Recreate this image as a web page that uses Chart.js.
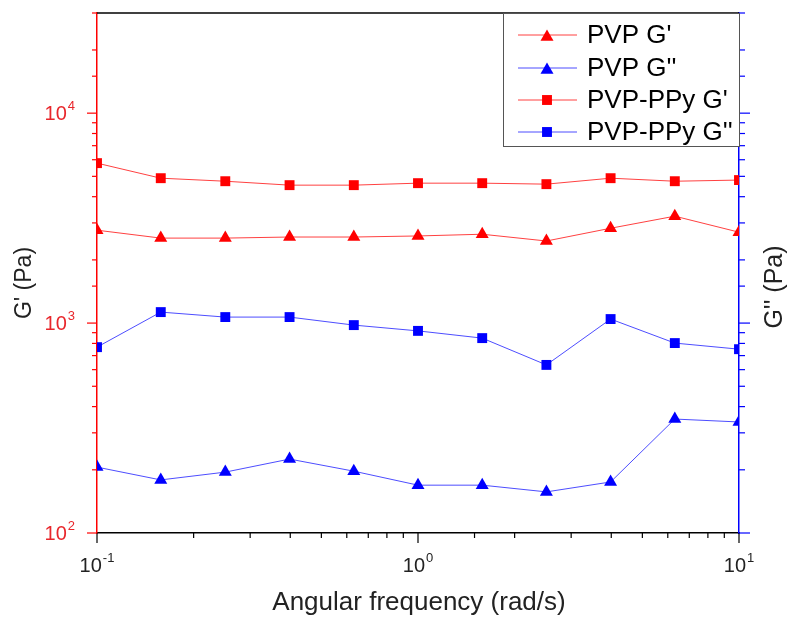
<!DOCTYPE html>
<html>
<head>
<meta charset="utf-8">
<script src="https://cdn.jsdelivr.net/npm/chart.js@4"></script>
<style>
  html, body { margin: 0; padding: 0; background: #fff; }
  #wrap { width: 790px; height: 618px; }
</style>
</head>
<body>
<div id="wrap"><canvas id="myChart"></canvas></div>
<script>
// angular frequency (rad/s)
const freq = [0.1, 0.158, 0.251, 0.398, 0.631, 1, 1.585, 2.512, 3.981, 6.31, 10];

// moduli (Pa)
const pvpG1 = [2770, 2540, 2540, 2570, 2570, 2600, 2650, 2460, 2830, 3230, 2710];
const pvpG2 = [206, 179, 195, 225, 197, 169, 169, 157, 175, 349, 338];
const ppyG1 = [5780, 4900, 4740, 4540, 4540, 4640, 4640, 4590, 4900, 4740, 4800];
const ppyG2 = [768, 1128, 1068, 1068, 978, 918, 848, 632, 1045, 803, 751];

const seriesNames = ["PVP G'", "PVP G''", "PVP-PPy G'", "PVP-PPy G''"];

const RED = '#ff0000';
const BLUE = '#0000ff';
const FONT = '"Liberation Sans", Arial, sans-serif';

function pts(ys) {
  return freq.map((x, i) => ({ x: x, y: ys[i] }));
}

function ds(label, ys, color, lineColor, shape, axis) {
  return {
    label: label,
    data: pts(ys),
    yAxisID: axis,
    borderColor: lineColor,
    backgroundColor: color,
    pointBackgroundColor: color,
    borderWidth: 1,
    pointStyle: shape,
    pointRadius: shape === 'rect' ? 7 : 7.5,
    pointBorderWidth: 0,
    tension: 0,
    clip: 0
  };
}

function isMajor(v) {
  const l = Math.log10(v);
  return Math.abs(l - Math.round(l)) < 1e-6;
}

// "10" with raised exponent
function powLabel(c, exp, x, y, align, color) {
  c.save();
  c.fillStyle = color;
  c.textBaseline = 'middle';
  c.textAlign = 'left';
  c.font = '20px ' + FONT;
  const w1 = c.measureText('10').width;
  c.font = '13px ' + FONT;
  const w2 = c.measureText(exp).width;
  const total = w1 + w2 + 1;
  let x0 = x;
  if (align === 'center') x0 = x - total / 2;
  if (align === 'right') x0 = x - total;
  c.font = '20px ' + FONT;
  c.fillText('10', x0, y);
  c.font = '13px ' + FONT;
  c.fillText(exp, x0 + w1 + 1, y - 8);
  c.restore();
}

const axesPlugin = {
  id: 'originAxes',
  afterDraw(chart) {
    const c = chart.ctx;
    const a = chart.chartArea;
    const sx = chart.scales.x, sy = chart.scales.y, sy2 = chart.scales.y2;

    // top frame line
    c.save();
    c.strokeStyle = '#000';
    c.lineWidth = 1.5;
    c.beginPath();
    c.moveTo(a.left, a.top);
    c.lineTo(a.right, a.top);
    c.stroke();

    // x ticks
    c.lineWidth = 1.2;
    sx.ticks.forEach(t => {
      const px = sx.getPixelForValue(t.value);
      const len = isMajor(t.value) ? 10 : 5;
      c.beginPath();
      c.moveTo(px, a.bottom);
      c.lineTo(px, a.bottom + len);
      c.stroke();
      if (isMajor(t.value)) {
        powLabel(c, String(Math.round(Math.log10(t.value))), px, 566, 'center', '#222');
      }
    });

    // left ticks (red)
    c.strokeStyle = RED;
    sy.ticks.forEach(t => {
      const py = sy.getPixelForValue(t.value);
      const len = isMajor(t.value) ? 10 : 5;
      c.beginPath();
      c.moveTo(a.left, py);
      c.lineTo(a.left - len, py);
      c.stroke();
      if (isMajor(t.value)) {
        powLabel(c, String(Math.round(Math.log10(t.value))), 75, py + 1, 'right', '#e8262b');
      }
    });

    // right ticks (blue)
    c.strokeStyle = BLUE;
    sy2.ticks.forEach(t => {
      const py = sy2.getPixelForValue(t.value);
      const len = isMajor(t.value) ? 11 : 6;
      c.beginPath();
      c.moveTo(a.right, py);
      c.lineTo(a.right + len, py);
      c.stroke();
    });

    // axis titles
    c.fillStyle = '#222';
    c.textAlign = 'center';
    c.textBaseline = 'middle';
    c.font = '26px ' + FONT;
    c.fillText('Angular frequency (rad/s)', 419, 603);

    c.save();
    c.translate(25, 283);
    c.rotate(-Math.PI / 2);
    c.font = '23px ' + FONT;
    c.fillText("G' (Pa)", 0, 0);
    c.restore();

    c.save();
    c.translate(775, 287);
    c.rotate(-Math.PI / 2);
    c.font = '25px ' + FONT;
    c.fillText("G'' (Pa)", 0, 0);
    c.restore();

    // legend box
    const lx = 503, ly = a.top, lw = a.right - 503, lh = 133;
    c.fillStyle = '#fff';
    c.fillRect(lx, ly + 1, lw, lh - 1);
    c.strokeStyle = '#555';
    c.lineWidth = 1;
    c.strokeRect(lx + 0.5, ly + 0.5, lw, lh);

    const rows = [35, 68, 100, 132];
    chart.data.datasets.forEach((d, i) => {
      const yy = rows[i];
      c.strokeStyle = d.borderColor;
      c.lineWidth = 1;
      c.beginPath();
      c.moveTo(518, yy);
      c.lineTo(577, yy);
      c.stroke();
      c.fillStyle = d.backgroundColor;
      Chart.helpers.drawPoint(c, {
        pointStyle: d.pointStyle,
        radius: d.pointRadius,
        borderWidth: 0
      }, 547, yy + (d.pointStyle === 'triangle' ? 2 : 0));
      c.fillStyle = '#000';
      c.font = '26px ' + FONT;
      c.textAlign = 'left';
      c.textBaseline = 'middle';
      c.fillText(d.label, 587, yy + 1);
    });
    c.restore();
  }
};

new Chart(document.getElementById('myChart'), {
  type: 'line',
  data: {
    datasets: [
      ds(seriesNames[0], pvpG1, RED, 'rgba(255,0,0,0.75)', 'triangle', 'y'),
      ds(seriesNames[1], pvpG2, BLUE, 'rgba(0,0,255,0.7)', 'triangle', 'y2'),
      ds(seriesNames[2], ppyG1, RED, 'rgba(255,0,0,0.75)', 'rect', 'y'),
      ds(seriesNames[3], ppyG2, BLUE, 'rgba(0,0,255,0.7)', 'rect', 'y2')
    ]
  },
  options: {
    responsive: true,
    maintainAspectRatio: false,
    animation: false,
    events: [],
    layout: { padding: { top: 13, left: 0, right: 0, bottom: 0 } },
    plugins: {
      legend: { display: false },
      tooltip: { enabled: false }
    },
    scales: {
      x: {
        type: 'logarithmic',
        min: 0.1,
        max: 10,
        grid: { display: false },
        border: { display: true, color: '#000', width: 1.5 },
        ticks: { display: false, autoSkip: false },
        afterFit(s) { s.height = 85; }
      },
      y: {
        type: 'logarithmic',
        position: 'left',
        min: 100,
        max: 30000,
        grid: { display: false },
        border: { display: true, color: RED, width: 1.5 },
        ticks: { display: false, autoSkip: false },
        afterFit(s) { s.width = 97; }
      },
      y2: {
        type: 'logarithmic',
        position: 'right',
        min: 100,
        max: 30000,
        grid: { display: false },
        border: { display: true, color: BLUE, width: 1.5 },
        ticks: { display: false, autoSkip: false },
        afterFit(s) { s.width = 51; }
      }
    }
  },
  plugins: [axesPlugin]
});
</script>
</body>
</html>
